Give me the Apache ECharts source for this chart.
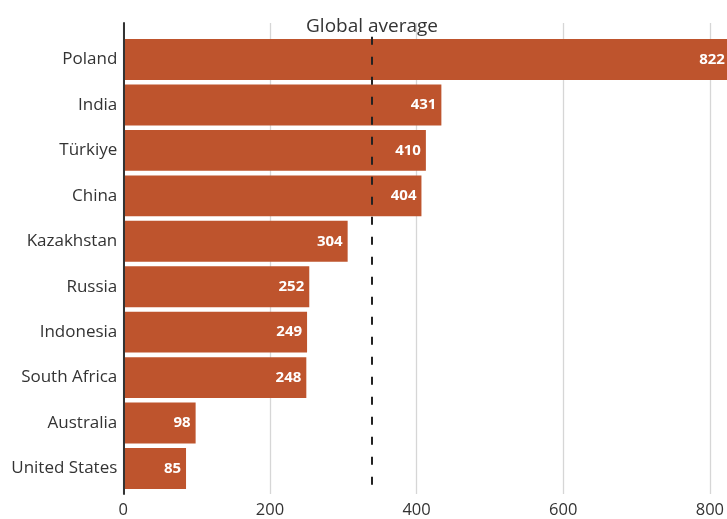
<!DOCTYPE html>
<html>
<head>
<meta charset="utf-8">
<script src="https://cdn.jsdelivr.net/npm/echarts@6/dist/echarts.min.js"></script>
<style>
  html, body { margin: 0; padding: 0; background: #fff; }
  #chart { width: 727px; height: 519px; }
</style>
</head>
<body>
<div id="chart"></div>
<script>
// Countries, top to bottom
const countries = ['Poland', 'India', 'Türkiye', 'China', 'Kazakhstan', 'Russia',
  'Indonesia', 'South Africa', 'Australia', 'United States'];
// Bar values
const values = [822, 431, 410, 404, 304, 252, 249, 248, 98, 85];
// Reference line
const globalAverage = 337;
const averageLabel = 'Global average';
// Value axis ticks
const xTicks = [0, 200, 400, 600, 800];

const FONT = '"Open Sans", "Noto Sans", sans-serif';
const TEXT = '#333333';
const BAR = '#BE542D';

const chart = echarts.init(document.getElementById('chart'), null, { renderer: 'canvas' });

chart.setOption({
  animation: false,
  backgroundColor: '#ffffff',
  textStyle: { fontFamily: FONT },
  grid: [
    // bars
    { left: 123.3, right: 13.3, top: 36.8, bottom: 27.8 },
    // frame: gridlines, value labels and the baseline
    { left: 123.3, right: 13.3, top: 23, bottom: 24 }
  ],
  xAxis: [
    {
      gridIndex: 0, type: 'value', min: xTicks[0], max: xTicks[xTicks.length - 1],
      interval: 200, show: false
    },
    {
      gridIndex: 1, type: 'value', min: xTicks[0], max: xTicks[xTicks.length - 1],
      interval: 200,
      axisLine: { show: false }, axisTick: { show: false },
      axisLabel: { color: TEXT, fontSize: 16.5, fontFamily: FONT, margin: 8 },
      splitLine: { show: true, lineStyle: { color: '#d6d6d6', width: 1.3 } }
    }
  ],
  yAxis: [
    {
      gridIndex: 0, type: 'category', data: countries, inverse: true,
      axisLine: { show: false }, axisTick: { show: false },
      axisLabel: { color: TEXT, fontSize: 17, fontFamily: FONT, margin: 6 },
      splitLine: { show: false }
    },
    {
      gridIndex: 1, type: 'value', min: 0, max: 1, z: 5,
      axisLine: { show: true, onZero: false, lineStyle: { color: '#333333', width: 2 } },
      axisTick: { show: false }, axisLabel: { show: false }, splitLine: { show: false }
    }
  ],
  series: [
    {
      type: 'bar',
      xAxisIndex: 0, yAxisIndex: 0,
      data: values,
      clip: false,
      barCategoryGap: '10%',
      itemStyle: { color: BAR },
      label: {
        show: true, position: 'insideRight', distance: 5,
        color: '#ffffff', fontWeight: 'bold', fontSize: 15, fontFamily: FONT
      },
      markLine: {
        silent: true, symbol: 'none', animation: false,
        lineStyle: { color: '#222222', width: 2, type: [8, 12] },
        label: {
          show: true, position: 'start', formatter: averageLabel,
          color: TEXT, fontSize: 19, fontFamily: FONT, distance: 1
        },
        data: [{ xAxis: globalAverage }]
      }
    }
  ]
});
</script>
</body>
</html>
